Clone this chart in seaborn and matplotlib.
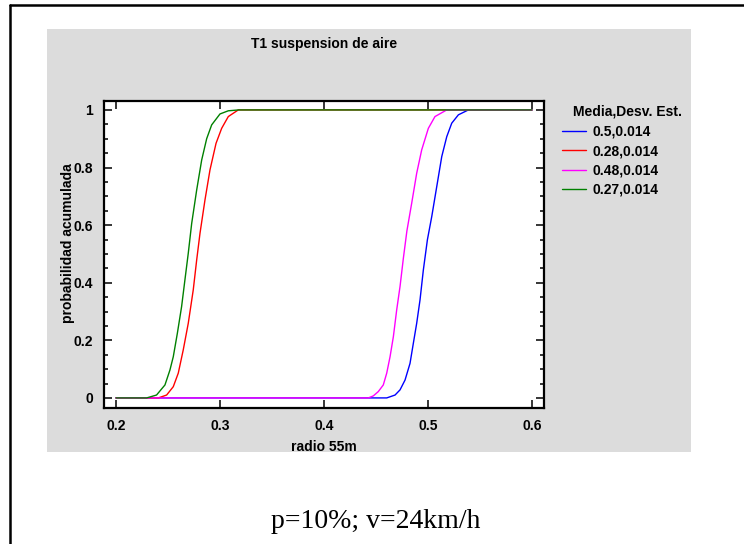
import matplotlib
matplotlib.use("Agg")
import matplotlib.pyplot as plt
from matplotlib.patches import Rectangle
from matplotlib.lines import Line2D
from matplotlib.ticker import MultipleLocator, FuncFormatter
import pandas as pd
import seaborn as sns

# Textos
titulo = "T1 suspension de aire"
eje_x = "radio 55m"
eje_y = "probabilidad acumulada"
titulo_leyenda = "Media,Desv. Est."
pie = "p=10%; v=24km/h"

# Series
series = ["0.5,0.014", "0.28,0.014", "0.48,0.014", "0.27,0.014"]
colores = ["#0000ff", "#ff0000", "#ff00ff", "#008000"]

x_azul = [0.20, 0.4603, 0.4683, 0.4731, 0.4779, 0.4827, 0.4859, 0.4891, 0.4923, 0.4955,
          0.4994, 0.5036, 0.5084, 0.5132, 0.5180, 0.5228, 0.5292, 0.5388, 0.60]
y_azul = [0.0, 0.0, 0.010, 0.028, 0.062, 0.120, 0.190, 0.259, 0.340, 0.444,
          0.549, 0.630, 0.734, 0.838, 0.907, 0.954, 0.983, 1.0, 1.0]

x_rojo = [0.20, 0.2407, 0.2487, 0.2551, 0.2599, 0.2647, 0.2695, 0.2743, 0.2776, 0.2808,
          0.2856, 0.2904, 0.2962, 0.3016, 0.3080, 0.3176, 0.60]
y_rojo = [0.0, 0.0, 0.010, 0.039, 0.086, 0.167, 0.259, 0.375, 0.479, 0.572,
          0.688, 0.792, 0.884, 0.936, 0.977, 1.0, 1.0]

x_magenta = [0.20, 0.4426, 0.4474, 0.4522, 0.4570, 0.4603, 0.4635, 0.4667, 0.4699, 0.4731,
             0.4763, 0.4797, 0.4843, 0.4891, 0.4939, 0.5003, 0.5067, 0.5180, 0.60]
y_magenta = [0.0, 0.0, 0.007, 0.022, 0.045, 0.086, 0.143, 0.213, 0.306, 0.387,
             0.485, 0.580, 0.676, 0.780, 0.861, 0.936, 0.977, 1.0, 1.0]

x_verde = [0.20, 0.2295, 0.2390, 0.2471, 0.2519, 0.2551, 0.2590, 0.2631, 0.2663, 0.2695,
           0.2728, 0.2776, 0.2824, 0.2872, 0.2920, 0.3000, 0.3080, 0.3180, 0.60]
y_verde = [0.0, 0.0, 0.010, 0.045, 0.097, 0.143, 0.224, 0.317, 0.410, 0.502,
           0.606, 0.722, 0.826, 0.900, 0.948, 0.986, 0.997, 1.0, 1.0]

xs = [x_azul, x_rojo, x_magenta, x_verde]
ys = [y_azul, y_rojo, y_magenta, y_verde]

filas = []
for nombre, xv, yv in zip(series, xs, ys):
    for i, (a, b) in enumerate(zip(xv, yv)):
        filas.append({"serie": nombre, "orden": i, "radio": a, "prob": b})
df = pd.DataFrame(filas)

sns.set_style("white")
plt.rcParams['font.family'] = ['Liberation Sans', 'DejaVu Sans']
plt.rcParams['font.weight'] = 'bold'
plt.rcParams['text.color'] = 'black'
plt.rcParams['axes.labelcolor'] = 'black'

W, H = 744, 544
fig = plt.figure(figsize=(W / 100, H / 100), dpi=100)
fig.patch.set_facecolor("white")

# panel gris de fondo
fig.patches.append(Rectangle((47 / W, 1 - 452 / H), (691 - 47) / W, (452 - 29) / H,
                             transform=fig.transFigure, facecolor="#dcdcdc",
                             edgecolor="none", zorder=-1))
# marco exterior (solo arriba e izquierda visibles)
fig.add_artist(Line2D([10 / W, 1], [1 - 5 / H, 1 - 5 / H], color="black", lw=1.8,
                      transform=fig.transFigure))
fig.add_artist(Line2D([10 / W, 10 / W], [0, 1 - 5 / H], color="black", lw=1.8,
                      transform=fig.transFigure))

ax = fig.add_axes([104 / W, 1 - 408 / H, (544 - 104) / W, (408 - 101) / H])
ax.set_zorder(2)
ax.set_facecolor("white")

sns.lineplot(data=df, x="radio", y="prob", hue="serie", hue_order=series,
             palette=colores, units="serie", estimator=None, sort=False,
             linewidth=1.0, ax=ax)

ax.set_xlim(0.1885, 0.6115)
ax.set_ylim(-0.035, 1.031)
ax.xaxis.set_major_locator(MultipleLocator(0.1))
ax.yaxis.set_major_locator(MultipleLocator(0.2))
ax.yaxis.set_minor_locator(MultipleLocator(0.05))
fmt = FuncFormatter(lambda v, p: f"{v:g}")
ax.xaxis.set_major_formatter(fmt)
ax.yaxis.set_major_formatter(fmt)

for s in ax.spines.values():
    s.set_visible(True)
    s.set_color("black")
    s.set_linewidth(1.6)
ax.tick_params(which="both", direction="in", top=True, right=True, bottom=True,
               left=True, width=1.1, colors="black", labelsize=10)
ax.tick_params(which="major", length=6, pad=8)
ax.tick_params(which="minor", length=3)
ax.tick_params(axis="x", which="minor", bottom=False, top=False)

ax.set_xlabel(eje_x, fontsize=10, fontweight="bold")
ax.set_ylabel(eje_y, fontsize=10, fontweight="bold")
ax.xaxis.set_label_coords(0.5, -0.104)
ax.yaxis.set_label_coords(-0.067, 0.5375)
ax.set_title(titulo, fontsize=10, fontweight="bold", y=1.173, pad=0)

handles, labels = ax.get_legend_handles_labels()
ax.legend(handles, labels, loc="upper left", bbox_to_anchor=(562 / W, 1 - 125 / H),
          bbox_transform=fig.transFigure, frameon=False, borderaxespad=0, borderpad=0,
          fontsize=10, handlelength=1.7, handletextpad=0.5, labelspacing=0.38)
fig.text(573 / W, 1 - 112 / H, titulo_leyenda, ha="left", va="center",
         fontsize=10, fontweight="bold")

fig.text(376 / W, 1 - 521 / H, pie, ha="center", va="center", fontsize=20,
         fontweight="normal", family=["Liberation Serif", "DejaVu Serif"])

fig.savefig("out.png", dpi=100)
